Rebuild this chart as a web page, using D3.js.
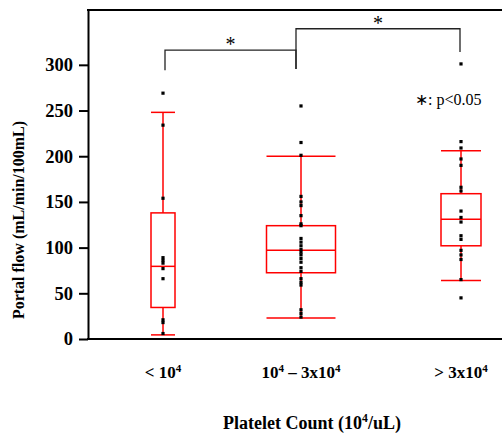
<!DOCTYPE html>
<html>
<head>
<meta charset="utf-8">
<script src="https://cdn.jsdelivr.net/npm/d3@7"></script>
<style>
body { margin: 0; background: #fff; }
text { font-family: "Liberation Serif", "Times New Roman", serif; fill: #000; }
</style>
</head>
<body>
<svg id="chart" width="502" height="433"></svg>
<script>
// values
var groups = ["< 10^4", "10^4 – 3x10^4", "> 3x10^4"];
var lowWhisker = [4.5, 23, 64];
var q1 = [34.5, 72.5, 102];
var median = [79.5, 97, 131];
var q3 = [138, 124, 159];
var highWhisker = [248, 200, 206];
var pointsLow = [269, 234, 154, 89, 86, 83, 77, 66, 21, 18, 6];
var pointsMid = [255, 215, 201, 156, 150, 146, 135, 126, 124, 110, 106, 102, 98, 95, 92, 88, 84, 78, 74, 66, 62, 59, 32, 28, 24];
var pointsHigh = [301, 216, 209, 197, 190, 166, 162, 140, 133, 128, 113, 109, 97, 92, 87, 65, 45];
var yTicks = [0, 50, 100, 150, 200, 250, 300];
var comparisons = [[0, 1], [1, 2]];

(function() {
  var points = [pointsLow, pointsMid, pointsHigh];

  // layout
  var svg = d3.select("#chart");
  var plotLeft = 88, plotRight = 502, plotTop = 10, plotBottom = 339;
  var y = d3.scaleLinear().domain([0, 360]).range([plotBottom, plotTop]);
  var x = d3.scaleOrdinal().domain(groups).range([163, 301, 461]);
  var boxWidth = d3.scaleOrdinal().domain(groups).range([24, 69, 40]);
  var red = "#ff0000";

  // helper: text with "^n" turned into a superscript
  function supText(sel, label, size) {
    var parts = label.split(/\^(\d)/);
    parts.forEach(function(p, i) {
      if (!p) return;
      var sup = i % 2 === 1;
      sel.append("tspan")
          .attr("font-size", sup ? size * 0.65 : size)
          .attr("dy", sup ? -size * 0.38 : (i > 0 ? size * 0.38 : 0))
          .text(p);
    });
  }

  // frame
  var yAxis = svg.append("g")
      .attr("transform", "translate(" + plotLeft + ",0)")
      .call(d3.axisLeft(y).tickValues(yTicks).tickSize(9).tickSizeOuter(0).tickPadding(6));
  yAxis.select(".domain").attr("stroke-width", 2);
  yAxis.selectAll(".tick line").attr("stroke-width", 2);
  yAxis.selectAll(".tick text")
      .attr("font-family", "Liberation Serif, Times New Roman, serif")
      .attr("font-weight", "bold").attr("font-size", 18.5);

  svg.append("line").attr("x1", plotLeft - 1).attr("x2", plotRight).attr("y1", y(0)).attr("y2", y(0))
      .attr("stroke", "#000").attr("stroke-width", 2);
  svg.append("line").attr("x1", plotLeft - 1).attr("x2", plotRight).attr("y1", y(360)).attr("y2", y(360))
      .attr("stroke", "#000").attr("stroke-width", 2);

  // boxes
  var boxes = svg.append("g").attr("class", "boxes").attr("stroke", red).attr("stroke-width", 1.5).attr("fill", "none");
  groups.forEach(function(g, i) {
    var cx = x(g), hw = boxWidth(g) / 2;
    var b = boxes.append("g");
    b.append("line").attr("x1", cx).attr("x2", cx).attr("y1", y(q3[i])).attr("y2", y(highWhisker[i]));
    b.append("line").attr("x1", cx).attr("x2", cx).attr("y1", y(q1[i])).attr("y2", y(lowWhisker[i]));
    b.append("line").attr("x1", cx - hw).attr("x2", cx + hw).attr("y1", y(highWhisker[i])).attr("y2", y(highWhisker[i]));
    b.append("line").attr("x1", cx - hw).attr("x2", cx + hw).attr("y1", y(lowWhisker[i])).attr("y2", y(lowWhisker[i]));
    b.append("rect").attr("x", cx - hw).attr("width", hw * 2)
        .attr("y", y(q3[i])).attr("height", y(q1[i]) - y(q3[i]));
    b.append("line").attr("x1", cx - hw).attr("x2", cx + hw).attr("y1", y(median[i])).attr("y2", y(median[i]));
  });

  // points
  var dots = svg.append("g").attr("class", "dots").attr("fill", "#000");
  groups.forEach(function(g, i) {
    dots.selectAll(null).data(points[i]).enter().append("rect")
        .attr("x", x(g) - 1.6).attr("y", function(d) { return y(d) - 1.6; })
        .attr("width", 3.2).attr("height", 3.2);
  });

  // significance brackets
  var bracketLevel = [316, 339.5];
  var legBottom = [[294, 295.5], [295.5, 314]];
  var legShift = [[2, -5], [-5, -1]];
  var brackets = svg.append("g").attr("stroke", "#222").attr("stroke-width", 1.3).attr("fill", "none");
  comparisons.forEach(function(c, k) {
    var xa = x(groups[c[0]]) + legShift[k][0], xb = x(groups[c[1]]) + legShift[k][1];
    brackets.append("path")
        .attr("d", "M" + xa + "," + y(legBottom[k][0]) + "V" + y(bracketLevel[k]) +
                   "H" + xb + "V" + y(legBottom[k][1]));
    svg.append("text")
        .attr("x", (xa + xb) / 2).attr("y", y(bracketLevel[k]) + 1)
        .attr("text-anchor", "middle").attr("font-size", 20).text("*");
  });

  svg.append("text").attr("x", 415).attr("y", 105).attr("font-size", 16).text("\u2217: p<0.05");

  // category labels
  groups.forEach(function(g) {
    var t = svg.append("text").attr("x", x(g)).attr("y", 378)
        .attr("text-anchor", "middle").attr("font-weight", "bold");
    supText(t, g, 17);
  });

  // axis titles
  var xt = svg.append("text").attr("x", 312).attr("y", 429)
      .attr("text-anchor", "middle").attr("font-weight", "bold");
  supText(xt, "Platelet Count (10^4/uL)", 18);

  svg.append("text")
      .attr("transform", "translate(24,220) rotate(-90)")
      .attr("text-anchor", "middle").attr("font-weight", "bold").attr("font-size", 16)
      .text("Portal flow (mL/min/100mL)");
})();
</script>
</body>
</html>
